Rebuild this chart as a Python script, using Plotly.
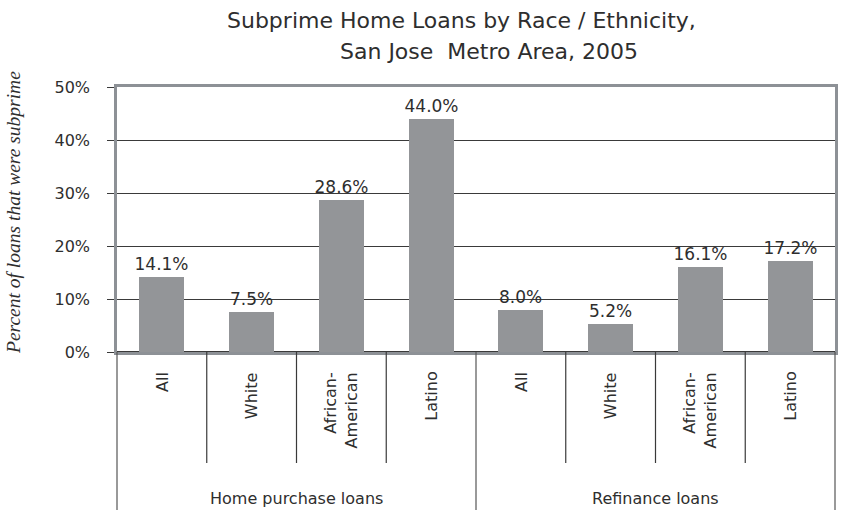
import plotly.graph_objects as go

# Share of loans that were subprime, by loan type and race/ethnicity
groups = ["Home purchase loans", "Refinance loans"]
races = ["All", "White", "African-<br>American", "Latino"]
purchase_pct = [14.1, 7.5, 28.6, 44.0]
refinance_pct = [8.0, 5.2, 16.1, 17.2]
y_ticks = [0, 10, 20, 30, 40, 50]
y_tick_text = [f"{v}%" for v in y_ticks]

values = purchase_pct + refinance_pct
labels = races + races
xpos = list(range(len(values)))

W, H = 843, 510
L, R, T, B = 117, 5, 87, 158
plot_h = H - T - B
n = len(values)

FONT = "'DejaVu Sans', sans-serif"
TXT = "#2e2e2e"
GRID = "#3a3a3a"
BORDER = "#8d9196"

fig = go.Figure(go.Bar(
    x=xpos, y=values, width=0.5,
    marker=dict(color="#939598", line=dict(width=0)),
    texttemplate="%{y:.1f}%", textposition="outside", constraintext="none",
    textfont=dict(family=FONT, size=17, color=TXT),
    cliponaxis=False, hoverinfo="skip",
))

fig.update_layout(
    width=W, height=H,
    margin=dict(l=L, r=R, t=T, b=B, pad=0),
    paper_bgcolor="white", plot_bgcolor="white",
    showlegend=False, bargap=0,
    font=dict(family=FONT, color=TXT),
)

fig.update_xaxes(
    range=[-0.5, n - 0.5], showticklabels=False, ticks="",
    showgrid=False, zeroline=False,
    showline=True, mirror=True, linecolor=BORDER, linewidth=2.5,
)
fig.update_yaxes(
    range=[0, 50], tickvals=y_ticks, ticktext=y_tick_text,
    tickfont=dict(family=FONT, size=16, color=TXT),
    ticks="outside", ticklen=7, tickcolor=GRID, tickwidth=1,
    ticklabelstandoff=14,
    showgrid=True, gridcolor=GRID, gridwidth=1,
    zeroline=True, zerolinecolor=GRID, zerolinewidth=1.5,
    showline=True, mirror=True, linecolor=BORDER, linewidth=2.5,
)

# category dividers below the axis
inner_bottom = -(463 - (H - B)) / plot_h
outer_bottom = -B / plot_h
shapes = []
for k in range(n + 1):
    xp = k / n
    outer = k % len(races) == 0
    shapes.append(dict(
        type="line", xref="paper", yref="paper",
        x0=xp, x1=xp, y0=0, y1=outer_bottom if outer else inner_bottom,
        line=dict(color=GRID if not outer else "#555555", width=1.2),
    ))
fig.update_layout(shapes=shapes)

annotations = []
for i, lab in zip(xpos, labels):
    annotations.append(dict(
        x=i, xref="x", y=0, yref="paper", yshift=-18,
        text=lab, textangle=-90, showarrow=False,
        xanchor="center", yanchor="top", align="right",
        font=dict(family=FONT, size=16, color=TXT),
    ))
for g, name in enumerate(groups):
    annotations.append(dict(
        x=g * len(races) + (len(races) - 1) / 2, xref="x",
        y=0, yref="paper", yshift=-146,
        text=name, showarrow=False, xanchor="center", yanchor="middle",
        font=dict(family=FONT, size=16, color=TXT),
    ))

# two-line title
annotations.append(dict(
    x=(463 - L) / (W - L - R), xref="paper", y=1, yref="paper", yshift=T - 20,
    text="Subprime Home Loans by Race / Ethnicity,", showarrow=False,
    xanchor="center", yanchor="middle",
    font=dict(family=FONT, size=22, color=TXT),
))
annotations.append(dict(
    x=(491 - L) / (W - L - R), xref="paper", y=1, yref="paper", yshift=T - 51,
    text="San Jose  Metro Area, 2005", showarrow=False,
    xanchor="center", yanchor="middle",
    font=dict(family=FONT, size=22, color=TXT),
))

# y-axis title
annotations.append(dict(
    x=0, xref="paper", xshift=-(L - 13), y=(H - B - 213) / plot_h, yref="paper",
    text="<i>Percent of loans that were subprime</i>", textangle=-90,
    showarrow=False, xanchor="center", yanchor="middle",
    font=dict(family="'Liberation Serif', serif", size=19.5, color=TXT),
))
fig.update_layout(annotations=annotations)

fig.write_html("out.html")
